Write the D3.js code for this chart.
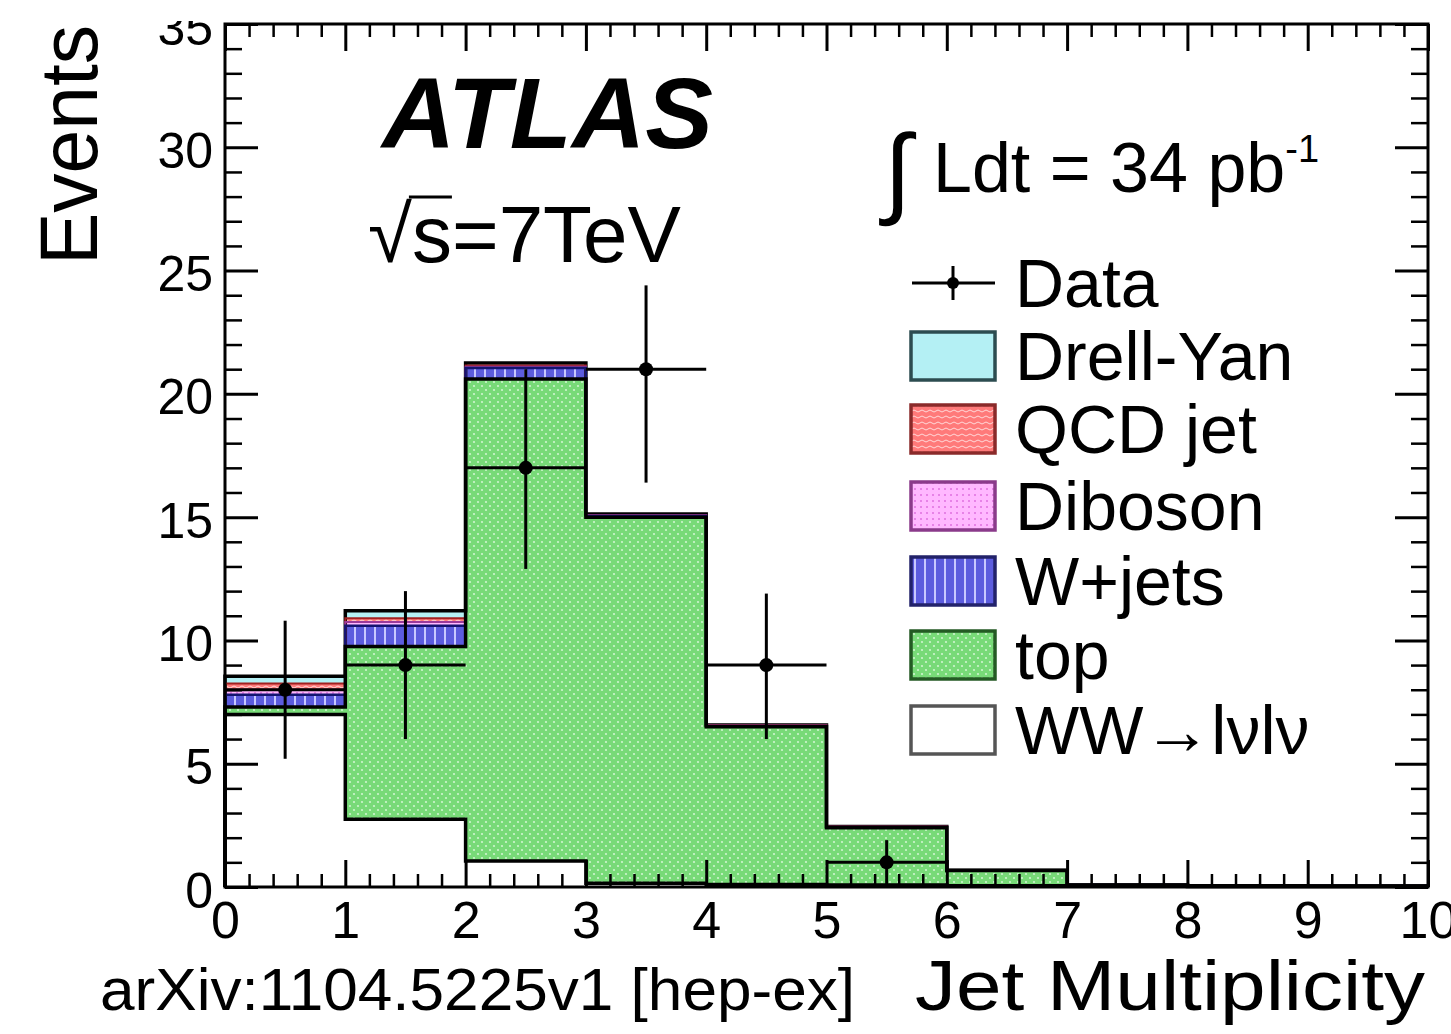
<!DOCTYPE html>
<html><head><meta charset="utf-8">
<script src="https://cdn.jsdelivr.net/npm/d3@7"></script>
<style>body{margin:0;background:#fff;overflow:hidden}</style>
</head><body>
<svg id="c" width="1451" height="1034" xmlns="http://www.w3.org/2000/svg"></svg>
<script>
// ---------- data ----------
const binEdges   = [0,1,2,3,4,5,6,7,8,9,10];
const wwLvlv     = [7.00, 2.75, 1.05, 0.15, 0.10, 0.08, 0.05, 0.03, 0.02, 0.02];
const topQuark   = [0.30, 7.00, 19.55, 14.85, 6.40, 2.32, 0.62, 0.05, 0.03, 0.02];
const wJets      = [0.50, 0.85, 0.45, 0.05, 0.02, 0.02, 0.00, 0.00, 0.00, 0.00];
const diboson    = [0.20, 0.15, 0.05, 0.03, 0.03, 0.02, 0.01, 0.00, 0.00, 0.00];
const qcdJet     = [0.25, 0.15, 0.05, 0.00, 0.00, 0.00, 0.00, 0.00, 0.00, 0.00];
const drellYan   = [0.30, 0.30, 0.10, 0.05, 0.02, 0.01, 0.00, 0.00, 0.00, 0.00];
const dataCounts = [8, 9, 17, 21, 9, 1];
const dataErrUp  = [2.8, 3.0, 4.0, 3.4, 2.9, 0.9];
const dataErrDn  = [2.8, 3.0, 4.1, 4.6, 3.0, 1.0];
const yMajorTicks = [0,5,10,15,20,25,30,35];
const xMajorTicks = [0,1,2,3,4,5,6,7,8,9,10];
const legendLabels = ["Data","Drell-Yan","QCD jet","Diboson","W+jets","top","WW\u2192l\u03bdl\u03bd"];

const FONT = "'Liberation Sans', Arial, Helvetica, sans-serif";
const svg = d3.select("#c");
const x = d3.scaleLinear().domain([0,10]).range([225,1428]);
const y = d3.scaleLinear().domain([0,35]).range([887,24]);

// ---------- patterns ----------
const defs = svg.append("defs");
const pg = defs.append("pattern").attr("id","pGreen").attr("patternUnits","userSpaceOnUse").attr("width",8).attr("height",8);
pg.append("rect").attr("width",8).attr("height",8).attr("fill","#78da78");
pg.append("circle").attr("cx",2).attr("cy",2).attr("r",1.1).attr("fill","#cff5cf");
pg.append("circle").attr("cx",6).attr("cy",6).attr("r",1.1).attr("fill","#cff5cf");
const pb = defs.append("pattern").attr("id","pBlue").attr("patternUnits","userSpaceOnUse").attr("width",10).attr("height",10);
pb.append("rect").attr("width",10).attr("height",10).attr("fill","#5c5cde");
pb.append("rect").attr("x",4).attr("width",2).attr("height",10).attr("fill","#c8c8ff");
const pp = defs.append("pattern").attr("id","pPink").attr("patternUnits","userSpaceOnUse").attr("width",6).attr("height",6);
pp.append("rect").attr("width",6).attr("height",6).attr("fill","#ffb8ff");
pp.append("circle").attr("cx",3).attr("cy",3).attr("r",1).attr("fill","#e070e0");
const pr = defs.append("pattern").attr("id","pRed").attr("patternUnits","userSpaceOnUse").attr("width",8).attr("height",6);
pr.append("rect").attr("width",8).attr("height",6).attr("fill","#ff7a7a");
pr.append("path").attr("d","M0,3 Q2,1 4,3 T8,3").attr("fill","none").attr("stroke","#ffd8d8").attr("stroke-width",1);

// ---------- stacked histogram ----------
const layers = [
  {key:"ww",  values:wwLvlv,   fill:"#ffffff",       stroke:"#000000", sw:3.5},
  {key:"top", values:topQuark, fill:"url(#pGreen)",  stroke:"#000000", sw:3.5},
  {key:"wj",  values:wJets,    fill:"url(#pBlue)",   stroke:"#141470", sw:2.5},
  {key:"dib", values:diboson,  fill:"url(#pPink)",   stroke:"#9a3a9a", sw:2},
  {key:"qcd", values:qcdJet,   fill:"url(#pRed)",    stroke:"#a02020", sw:2},
  {key:"dy",  values:drellYan, fill:"#b4f0f4",       stroke:"#000000", sw:3.5}
];
const rows = binEdges.map((e,i) => {
  const j = Math.min(i, 9);
  const r = {edge:e};
  layers.forEach(L => r[L.key] = L.values[j]);
  return r;
});
const stacked = d3.stack().keys(layers.map(L=>L.key))(rows);

const gHist = svg.append("g");
const area = d3.area().x(d=>x(d.data.edge)).y0(d=>y(d[0])).y1(d=>y(d[1])).curve(d3.curveStepAfter);
stacked.forEach((s,k) => {
  gHist.append("path").attr("d", area(s)).attr("fill", layers[k].fill).attr("stroke","none");
});
const line = d3.line().x(p=>x(p[0])).y(p=>y(p[1])).curve(d3.curveStepAfter);
for (let k = stacked.length-1; k >= 0; k--) {
  const s = stacked[k];
  const pts = [[0,0]].concat(s.map(d=>[d.data.edge, d[1]])).concat([[10,0]]);
  gHist.append("path").attr("d", line(pts)).attr("fill","none")
    .attr("stroke", layers[k].stroke).attr("stroke-width", layers[k].sw)
    .attr("stroke-linejoin","miter");
}

// ---------- data points ----------
const gData = svg.append("g").attr("stroke","#000").attr("stroke-width",3);
dataCounts.forEach((n,i) => {
  const cx = x(i+0.5);
  gData.append("line").attr("x1",x(i)).attr("x2",x(i+1)).attr("y1",y(n)).attr("y2",y(n));
  gData.append("line").attr("x1",cx).attr("x2",cx).attr("y1",y(n+dataErrUp[i])).attr("y2",y(n-dataErrDn[i]));
  gData.append("circle").attr("cx",cx).attr("cy",y(n)).attr("r",7).attr("fill","#000").attr("stroke","none");
});

// ---------- axes ----------
const yMinor = d3.range(0,36,1).filter(v=>v%5!==0);
const xMinor = d3.range(0,10.001,0.2).map(v=>+v.toFixed(1)).filter(v=>Math.abs(v-Math.round(v))>1e-6);
function styleAxis(g, fs){
  g.select(".domain").remove();
  g.selectAll(".tick line").attr("stroke","#000").attr("stroke-width",3);
  g.selectAll(".tick text").attr("font-family",FONT).attr("font-size",fs).attr("fill","#000");
}
// left
const gL = svg.append("g").attr("transform",`translate(${x(0)},0)`)
  .call(d3.axisLeft(y).tickValues(yMajorTicks).tickSize(-33).tickPadding(12).tickFormat(d3.format("d")));
styleAxis(gL, 50); gL.selectAll(".tick text").attr("dy","0.4em");
const gLm = svg.append("g").attr("transform",`translate(${x(0)},0)`)
  .call(d3.axisLeft(y).tickValues(yMinor).tickSize(-17).tickFormat(""));
styleAxis(gLm, 1); gLm.selectAll(".tick line").attr("stroke-width",2.5);
// right
const gR = svg.append("g").attr("transform",`translate(${x(10)},0)`)
  .call(d3.axisRight(y).tickValues(yMajorTicks).tickSize(-33).tickFormat(""));
styleAxis(gR, 1);
const gRm = svg.append("g").attr("transform",`translate(${x(10)},0)`)
  .call(d3.axisRight(y).tickValues(yMinor).tickSize(-17).tickFormat(""));
styleAxis(gRm, 1); gRm.selectAll(".tick line").attr("stroke-width",2.5);
// bottom
const gB = svg.append("g").attr("transform",`translate(0,${y(0)})`)
  .call(d3.axisBottom(x).tickValues(xMajorTicks).tickSize(-27).tickPadding(14).tickFormat(d3.format("d")));
styleAxis(gB, 52);
const gBm = svg.append("g").attr("transform",`translate(0,${y(0)})`)
  .call(d3.axisBottom(x).tickValues(xMinor).tickSize(-13).tickFormat(""));
styleAxis(gBm, 1); gBm.selectAll(".tick line").attr("stroke-width",2.5);
// top
const gT = svg.append("g").attr("transform",`translate(0,${y(35)})`)
  .call(d3.axisTop(x).tickValues(xMajorTicks).tickSize(-27).tickFormat(""));
styleAxis(gT, 1);
const gTm = svg.append("g").attr("transform",`translate(0,${y(35)})`)
  .call(d3.axisTop(x).tickValues(xMinor).tickSize(-13).tickFormat(""));
styleAxis(gTm, 1); gTm.selectAll(".tick line").attr("stroke-width",2.5);
// frame
svg.append("rect").attr("x",x(0)).attr("y",y(35)).attr("width",x(10)-x(0)).attr("height",y(0)-y(35))
  .attr("fill","none").attr("stroke","#000").attr("stroke-width",3);

// ---------- titles & labels ----------
svg.append("text").attr("transform","translate(97,145) rotate(-90)").attr("text-anchor","middle")
  .attr("font-family",FONT).attr("font-size",82).attr("textLength",240).attr("lengthAdjust","spacingAndGlyphs")
  .text("Events");
svg.append("text").attr("x",915).attr("y",1010).attr("font-family",FONT).attr("font-size",70)
  .attr("textLength",510).attr("lengthAdjust","spacingAndGlyphs").text("Jet Multiplicity");
svg.append("text").attr("x",100).attr("y",1010).attr("font-family",FONT).attr("font-size",60)
  .attr("textLength",755).attr("lengthAdjust","spacingAndGlyphs").text("arXiv:1104.5225v1 [hep-ex]");
svg.append("text").attr("x",382).attr("y",148).attr("font-family",FONT).attr("font-size",100)
  .attr("font-weight","bold").attr("font-style","italic")
  .attr("textLength",331).attr("lengthAdjust","spacingAndGlyphs").text("ATLAS");
const sq = svg.append("text").attr("x",368).attr("y",262).attr("font-family",FONT).attr("font-size",80);
sq.append("tspan").text("\u221As=7TeV");
const sqNode = sq.node();
const e0 = sqNode.getExtentOfChar(0), e1 = sqNode.getExtentOfChar(1);
svg.append("line").attr("x1",e0.x+e0.width-3).attr("x2",e1.x+e1.width).attr("y1",197).attr("y2",197)
  .attr("stroke","#000").attr("stroke-width",3);

const lum = svg.append("text").attr("x",884).attr("y",200).attr("font-family",FONT).attr("font-size",70);
lum.append("tspan").attr("font-size",100).attr("y",205).text("\u222B");
lum.append("tspan").attr("x",933).attr("y",192).text("Ldt = 34 pb");
lum.append("tspan").attr("dy",-30).attr("font-size",38).text("-1");

// ---------- legend ----------
const legY = [283,356,429,506,581,655,730];
const legFill = [null,"#b4f0f4","url(#pRed)","url(#pPink)","url(#pBlue)","url(#pGreen)","#ffffff"];
const legStroke = [null,"#2c4c50","#8a2a2a","#8a3a8a","#22226a","#245a24","#555555"];
const gLeg = svg.append("g");
legendLabels.forEach((t,i) => {
  const yc = legY[i];
  if (i === 0) {
    gLeg.append("line").attr("x1",912).attr("x2",995).attr("y1",yc).attr("y2",yc).attr("stroke","#000").attr("stroke-width",3);
    gLeg.append("line").attr("x1",953).attr("x2",953).attr("y1",yc-17).attr("y2",yc+17).attr("stroke","#000").attr("stroke-width",3);
    gLeg.append("circle").attr("cx",953).attr("cy",yc).attr("r",6).attr("fill","#000");
  } else {
    gLeg.append("rect").attr("x",911).attr("y",yc-24).attr("width",84).attr("height",48)
      .attr("fill",legFill[i]).attr("stroke",legStroke[i]).attr("stroke-width",3.5);
  }
  gLeg.append("text").attr("x",1015).attr("y",yc+24).attr("font-family",FONT).attr("font-size",68).text(t);
});

// white band at the very top (picture is cropped there)
svg.append("rect").attr("x",0).attr("y",0).attr("width",1451).attr("height",21).attr("fill","#fff");
</script>
</body></html>
